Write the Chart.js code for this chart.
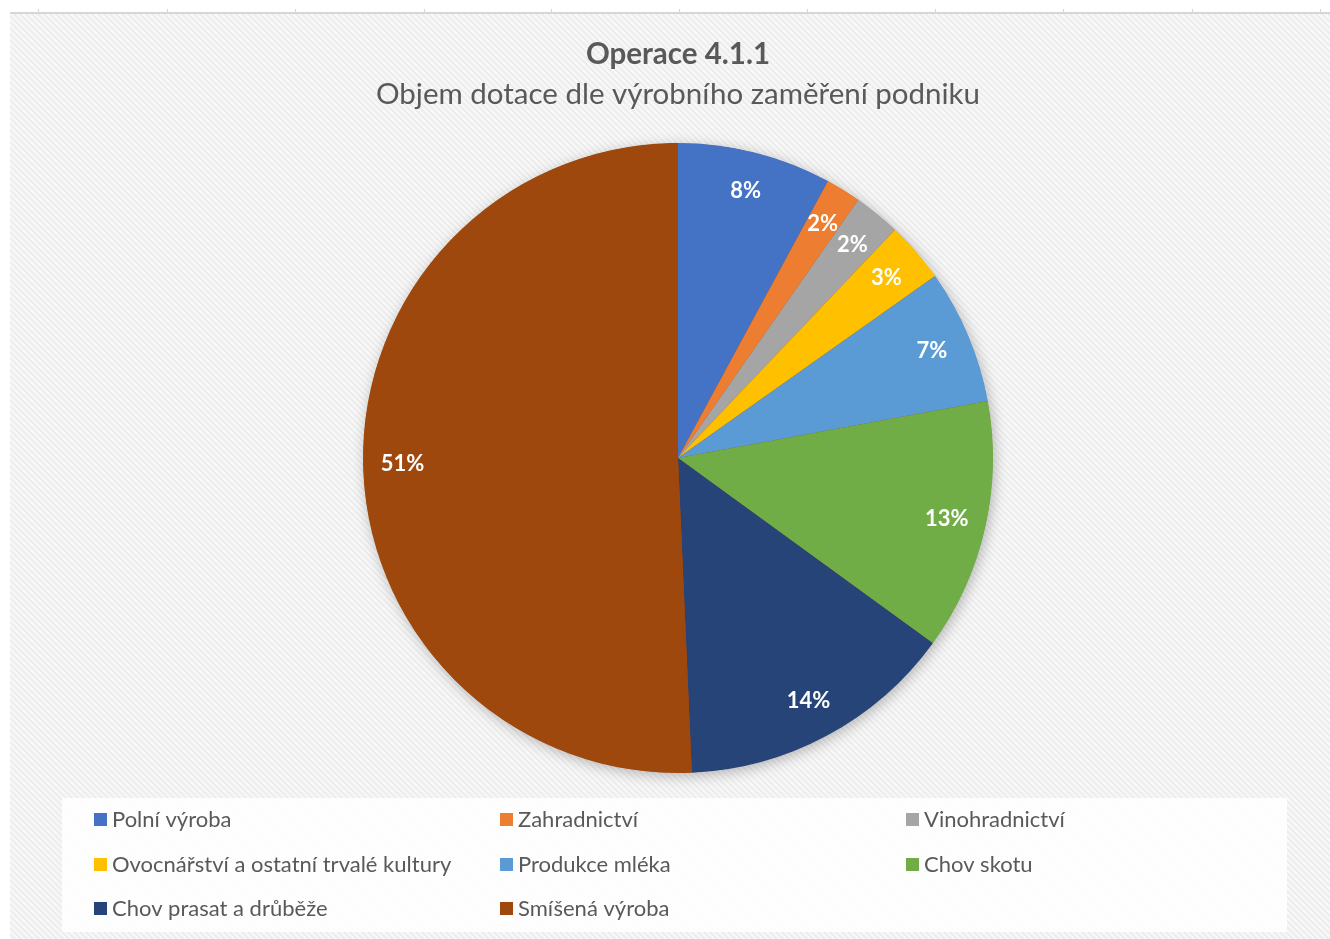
<!DOCTYPE html>
<html>
<head>
<meta charset="utf-8">
<script src="https://cdn.jsdelivr.net/npm/chart.js@4.4.1/dist/chart.umd.min.js"></script>
<style>
  html, body { margin: 0; padding: 0; background: #ffffff; }
  #wrap { position: absolute; left: 0; top: 0; width: 1330px; height: 939px; }
</style>
</head>
<body>
<div id="wrap"><canvas id="c" width="1330" height="939"></canvas></div>
<script>
// ---- data ----
const chartTitle = 'Operace 4.1.1';
const chartSubtitle = 'Objem dotace dle výrobního zaměření podniku';
const categories = [
  'Polní výroba',
  'Zahradnictví',
  'Vinohradnictví',
  'Ovocnářství a ostatní trvalé kultury',
  'Produkce mléka',
  'Chov skotu',
  'Chov prasat a drůběže',
  'Smíšená výroba'
];
const shares = [7.9, 1.8, 2.4, 3.1, 6.9, 12.9, 14.3, 50.7];
const sliceColors = ['#4472C4', '#ED7D31', '#A5A5A5', '#FFC000', '#5B9BD5', '#70AD47', '#264478', '#9E480E'];

const FONT = 'Lato, "Open Sans", "DejaVu Sans", sans-serif';
const TEXT = '#595959';

// background with diagonal hatch, top rule and legend panel
const backgroundPlugin = {
  id: 'bgPlugin',
  beforeDraw(chart) {
    const ctx = chart.ctx;
    const W = chart.width, H = chart.height;
    ctx.save();
    ctx.fillStyle = '#ffffff';
    ctx.fillRect(0, 0, W, H);
    const p = document.createElement('canvas');
    p.width = 6; p.height = 6;
    const pc = p.getContext('2d');
    pc.fillStyle = '#f7f7f7';
    pc.fillRect(0, 0, 6, 6);
    pc.strokeStyle = '#ebebeb';
    pc.lineWidth = 1.6;
    pc.beginPath();
    pc.moveTo(-1, -1); pc.lineTo(7, 7);
    pc.moveTo(-7, -1); pc.lineTo(1, 7);
    pc.moveTo(5, -1); pc.lineTo(13, 7);
    pc.stroke();
    ctx.fillStyle = ctx.createPattern(p, 'repeat');
    ctx.fillRect(10, 14, W - 10, H - 14);
    ctx.fillStyle = '#d6d6d6';
    ctx.fillRect(10, 12, W - 10, 2);
    const ticks = [38, 167, 295, 424, 551, 679, 807, 935, 1063, 1192, 1320];
    ticks.forEach(x => ctx.fillRect(x, 9, 1, 4));
    ctx.fillStyle = 'rgba(255,255,255,0.88)';
    ctx.fillRect(62, 798, 1225, 134);
    ctx.restore();
  },
  beforeDatasetsDraw(chart) {
    const meta = chart.getDatasetMeta(0);
    if (!meta.data.length) return;
    const a = meta.data[0];
    const ctx = chart.ctx;
    ctx.save();
    ctx.shadowColor = 'rgba(0,0,0,0.28)';
    ctx.shadowBlur = 14;
    ctx.shadowOffsetX = 2;
    ctx.shadowOffsetY = 3;
    ctx.fillStyle = '#9E480E';
    ctx.beginPath();
    ctx.arc(a.x, a.y, a.outerRadius - 0.5, 0, Math.PI * 2);
    ctx.fill();
    ctx.restore();
  }
};

// percentage labels inside the slices
const sliceLabelPlugin = {
  id: 'sliceLabels',
  afterDatasetsDraw(chart) {
    const ctx = chart.ctx;
    const ds = chart.data.datasets[0];
    const total = ds.data.reduce((s, v) => s + v, 0);
    const meta = chart.getDatasetMeta(0);
    ctx.save();
    ctx.font = 'bold 22px ' + FONT;
    ctx.fillStyle = '#ffffff';
    ctx.textAlign = 'center';
    ctx.textBaseline = 'middle';
    meta.data.forEach((arc, i) => {
      const mid = (arc.startAngle + arc.endAngle) / 2;
      const r = arc.outerRadius * 0.875;
      const x = arc.x + Math.cos(mid) * r;
      const y = arc.y + Math.sin(mid) * r;
      const pct = Math.round(ds.data[i] / total * 100) + '%';
      ctx.fillText(pct, x, y);
    });
    ctx.restore();
  }
};

// three-column legend below the pie
const gridLegendPlugin = {
  id: 'gridLegend',
  afterDraw(chart) {
    const ctx = chart.ctx;
    const labels = chart.data.labels;
    const colors = chart.data.datasets[0].backgroundColor;
    const colX = [94, 500, 906];
    const rowY = [819, 864, 908];
    ctx.save();
    ctx.font = '22px ' + FONT;
    ctx.textBaseline = 'middle';
    ctx.textAlign = 'left';
    labels.forEach((lab, i) => {
      const cx = colX[i % 3];
      const cy = rowY[Math.floor(i / 3)];
      ctx.fillStyle = colors[i];
      ctx.fillRect(cx, cy - 6, 13, 13);
      ctx.fillStyle = TEXT;
      ctx.fillText(lab, cx + 18, cy + 1);
    });
    ctx.restore();
  }
};

new Chart(document.getElementById('c'), {
  type: 'pie',
  data: {
    labels: categories,
    datasets: [{
      data: shares,
      backgroundColor: sliceColors,
      borderWidth: 0,
      hoverOffset: 0
    }]
  },
  options: {
    responsive: false,
    animation: false,
    devicePixelRatio: 1,
    layout: { padding: { top: 0, bottom: 166, left: 200, right: 174 } },
    plugins: {
      legend: { display: false },
      tooltip: { enabled: false },
      title: {
        display: true,
        text: chartTitle,
        color: TEXT,
        font: { family: FONT, size: 29.5, weight: 'bold', lineHeight: 1.2 },
        padding: { top: 36.3, bottom: 0 }
      },
      subtitle: {
        display: true,
        text: chartSubtitle,
        color: TEXT,
        font: { family: FONT, size: 29.5, weight: 'normal', lineHeight: 1.2 },
        padding: { top: 4.6, bottom: 31.3 }
      }
    }
  },
  plugins: [backgroundPlugin, sliceLabelPlugin, gridLegendPlugin]
});
</script>
</body>
</html>
